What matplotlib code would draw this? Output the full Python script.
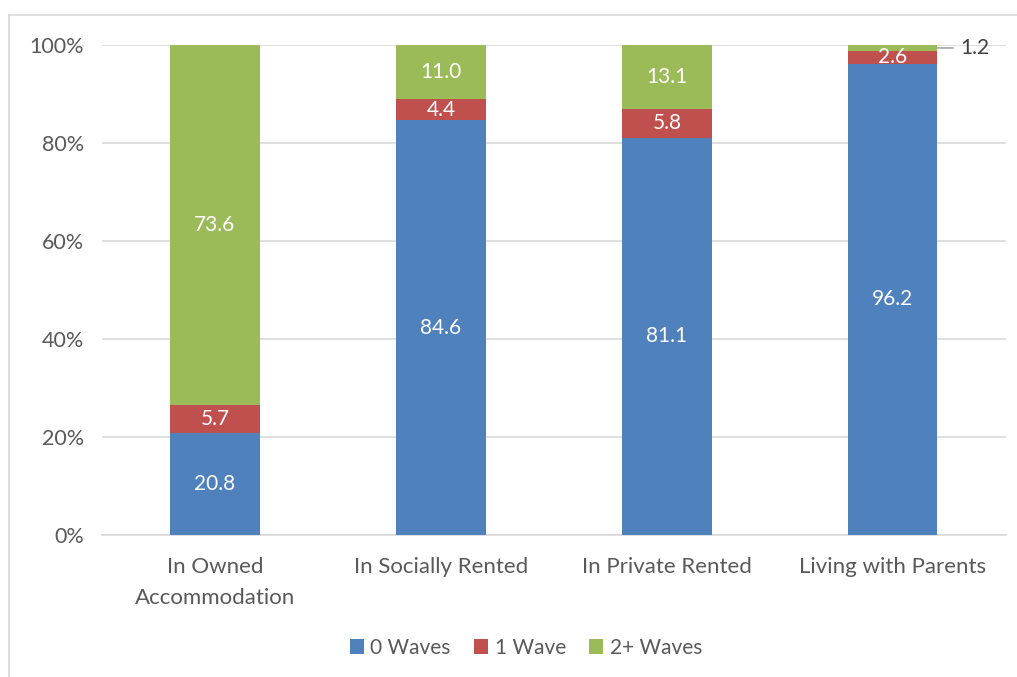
import matplotlib
matplotlib.use("Agg")
import matplotlib.pyplot as plt
import numpy as np

categories = ["In Owned\nAccommodation", "In Socially Rented", "In Private Rented", "Living with Parents"]
series_names = ["0 Waves", "1 Wave", "2+ Waves"]
waves0 = [20.8, 84.6, 81.1, 96.2]
waves1 = [5.7, 4.4, 5.8, 2.6]
waves2 = [73.6, 11.0, 13.1, 1.2]
colors = ["#4F81BD", "#C0504D", "#9BBB59"]
y_ticks = [0, 20, 40, 60, 80, 100]
y_ticklabels = ["0%", "20%", "40%", "60%", "80%", "100%"]

plt.rcParams['font.family'] = ['Lato', 'DejaVu Sans']

fig = plt.figure(figsize=(10.17, 6.77), dpi=100)
ax = fig.add_axes([0.1003, 0.2097, 0.8887, 0.7238])

x = np.arange(len(categories))
width = 0.395
data = [waves0, waves1, waves2]
bottom = np.zeros(len(categories))
for vals, col, name in zip(data, colors, series_names):
    vals = np.array(vals)
    ax.bar(x, vals, width, bottom=bottom, color=col, label=name, zorder=3)
    for i, (b, v) in enumerate(zip(bottom, vals)):
        if v >= 2:
            ax.text(x[i], b + v / 2, f"{v:.1f}", ha="center", va="center",
                    color="white", fontsize=15, zorder=4)
        else:
            ax.annotate(f"{v:.1f}", xy=(x[i] + width / 2, b + v / 2),
                        xytext=(x[i] + width / 2 + 0.1, b + v / 2),
                        ha="left", va="center", color="#404040", fontsize=15,
                        arrowprops=dict(arrowstyle="-", color="#A6A6A6", lw=1.2,
                                        shrinkA=3, shrinkB=0))
    bottom = bottom + vals

ax.set_xlim(-0.5, 3.5)
ax.set_ylim(0, 100)
ax.set_yticks(y_ticks)
ax.set_yticklabels(y_ticklabels, fontsize=15.5)
ax.set_xticks(x)
ax.set_xticklabels(categories, linespacing=1.65, fontsize=16)
ax.tick_params(axis="both", length=0, labelcolor="#595959")
ax.tick_params(axis="y", pad=13)
ax.tick_params(axis="x", pad=16)
ax.grid(axis="y", color="#D9D9D9", lw=1.2, zorder=0)
for s in ["top", "right", "left"]:
    ax.spines[s].set_visible(False)
ax.spines["bottom"].set_color("#D9D9D9")
ax.spines["bottom"].set_linewidth(1.2)
ax.set_axisbelow(True)

leg = fig.legend(loc="center", bbox_to_anchor=(0.517, 0.043), ncol=3, frameon=False,
                 fontsize=15, handlelength=0.7, handleheight=0.7,
                 handletextpad=0.3, columnspacing=1.1)
for t in leg.get_texts():
    t.set_color("#595959")

# outer border (top and left visible)
fig.add_artist(plt.Line2D([9 / 1017, 1.0], [1 - 15 / 677, 1 - 15 / 677],
                          transform=fig.transFigure, color="#D9D9D9", lw=1.2))
fig.add_artist(plt.Line2D([9 / 1017, 9 / 1017], [0, 1 - 15 / 677],
                          transform=fig.transFigure, color="#D9D9D9", lw=1.2))

fig.savefig("out.png", dpi=100)
